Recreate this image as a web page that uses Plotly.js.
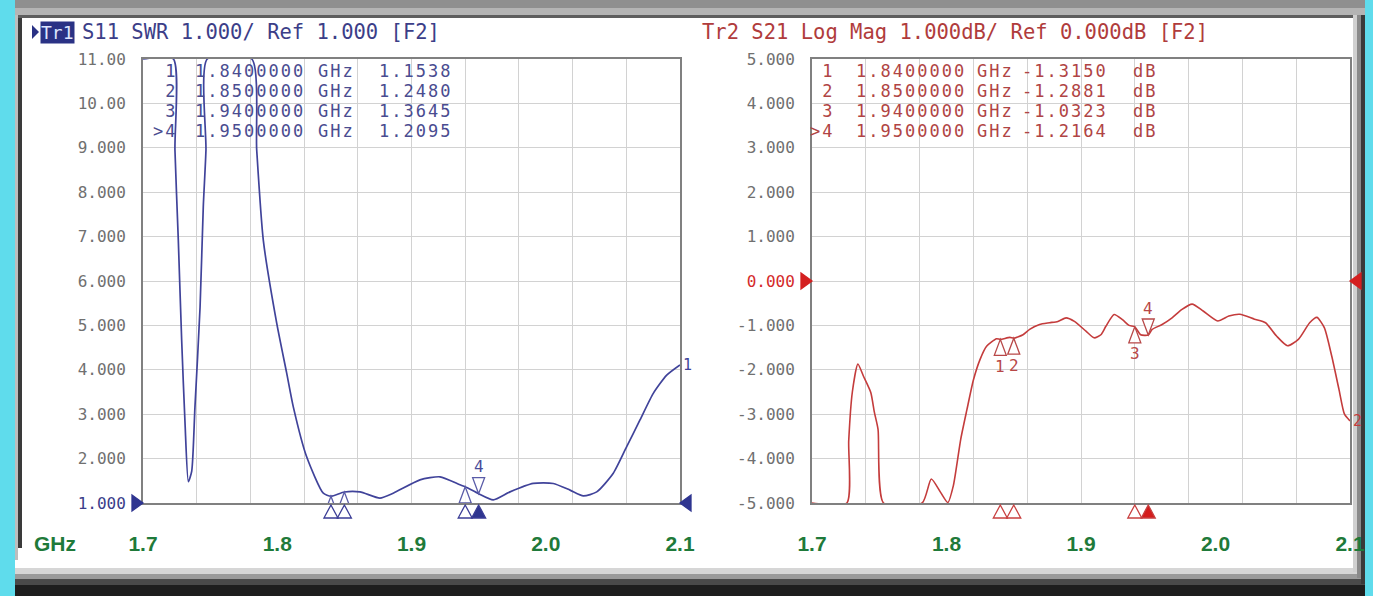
<!DOCTYPE html>
<html><head><meta charset="utf-8">
<script src="https://cdn.plot.ly/plotly-3.0.1.min.js"></script>
<style>html,body{margin:0;padding:0;background:#fff;} #chart{width:1373px;height:596px;}</style>
</head><body><div id="chart"></div>
<script>
// ---------------- data ----------------
const freqS11 = [1.700,1.7226,1.7238,1.7263,1.7288,1.7313,1.7338,1.7363,1.7387,1.7425,1.7449,1.7469,1.7479,1.7810,1.7847,1.7896,1.7996,1.8070,1.8120,1.8219,1.8343,1.8400,1.8500,1.8616,1.8765,1.8864,1.9063,1.9212,1.9361,1.9400,1.9500,1.9609,1.9734,1.9907,2.0056,2.0181,2.0280,2.0380,2.0503,2.0603,2.0702,2.0801,2.0901,2.1000];
const swrS11  = [11,11,8.95,6.92,4.67,2.80,1.48,1.72,3.16,5.41,7.67,8.95,11,11,8.95,6.92,5.05,3.93,3.16,2.04,1.22,1.1538,1.2480,1.25,1.11,1.22,1.52,1.59,1.41,1.3645,1.2095,1.07,1.25,1.44,1.44,1.29,1.16,1.25,1.67,2.27,2.87,3.47,3.88,4.11];

const freqS21 = [1.700,1.7259,1.7273,1.7300,1.7341,1.7382,1.7437,1.7464,1.7491,1.7532,1.7819,1.7887,1.7956,1.8010,1.8051,1.8106,1.8151,1.8200,1.8249,1.8298,1.8372,1.8400,1.8471,1.8500,1.8569,1.8618,1.8692,1.8766,1.8828,1.8889,1.8951,1.9037,1.9098,1.9148,1.9185,1.9246,1.9308,1.9357,1.9400,1.9443,1.9500,1.9529,1.9603,1.9677,1.9751,1.9826,1.9908,2.0017,2.0099,2.0181,2.0290,2.0372,2.0454,2.0536,2.0618,2.0700,2.0754,2.0809,2.0864,2.0918,2.0959,2.1000];
const magS21  = [-5,-5,-3.6,-2.5,-1.87,-2.14,-2.51,-2.96,-3.34,-5,-5,-4.46,-4.76,-4.99,-4.61,-3.56,-2.91,-2.23,-1.77,-1.47,-1.30,-1.3150,-1.27,-1.2881,-1.21,-1.09,-0.98,-0.94,-0.91,-0.83,-0.91,-1.13,-1.28,-1.21,-1.02,-0.755,-0.87,-1.00,-1.0323,-1.21,-1.2164,-1.09,-0.98,-0.83,-0.64,-0.52,-0.675,-0.90,-0.79,-0.75,-0.86,-0.94,-1.24,-1.46,-1.31,-0.94,-0.82,-1.05,-1.69,-2.44,-3.00,-3.15];

const markerIds  = ['1','2','3','>4'];
const markerFreq = [1.84, 1.85, 1.94, 1.95];
const markerSWR  = [1.1538, 1.2480, 1.3645, 1.2095];
const markerMag  = [-1.3150, -1.2881, -1.0323, -1.2164];

const xTickVals = [1.7, 1.8, 1.9, 2.0, 2.1];
const xTickText = ['1.7', '1.8', '1.9', '2.0', '2.1'];
const ySwrVals = [1,2,3,4,5,6,7,8,9,10,11];
const ySwrText = ['1.000','2.000','3.000','4.000','5.000','6.000','7.000','8.000','9.000','10.00','11.00'];
const yMagVals = [-5,-4,-3,-2,-1,0,1,2,3,4,5];
const yMagText = ['-5.000','-4.000','-3.000','-2.000','-1.000','0.000','1.000','2.000','3.000','4.000','5.000'];
const swrRange = [1, 11], magRange = [-5, 5];
const swrRef = 1, magRef = 0;

const header1Tag = 'Tr1';
const header1 = 'S11 SWR 1.000/ Ref 1.000 [F2]';
const header2 = 'Tr2 S21 Log Mag 1.000dB/ Ref 0.000dB [F2]';
const unitLabel = 'GHz';
const magUnit = 'dB';

// ---------------- styling / layout helpers ----------------
const W = 1373, H = 596;
const PX = x => x / W;
const PY = y => 1 - y / H;
const BLUE = '#40439a', RED = '#c43c3c', GREEN = '#1f7a3a';
const GRID = '#d2d2d2', BORDER = '#808080', TICKC = '#707070';
const MONO = 'DejaVu Sans Mono, monospace';

const refColorSpan = (t, c) => '<span style="color:' + c + '">' + t + '</span>';

const traces = [
  {x: freqS11, y: swrS11, xaxis: 'x', yaxis: 'y', mode: 'lines', hoverinfo: 'skip',
   line: {color: BLUE, width: 1.7, shape: 'spline', smoothing: 0.6}},
  {x: freqS21, y: magS21, xaxis: 'x2', yaxis: 'y2', mode: 'lines', hoverinfo: 'skip',
   line: {color: RED, width: 1.6, shape: 'spline', smoothing: 0.6}}
];

function xAxis(domain, anchor) {
  return {
    domain: domain, anchor: anchor, range: [1.7, 2.1], fixedrange: true,
    tickmode: 'array', tickvals: xTickVals, ticktext: xTickText,
    showgrid: false, zeroline: false, ticks: '',
    minor: {tickmode: 'linear', tick0: 1.7, dtick: 0.04, showgrid: true, gridcolor: GRID, gridwidth: 1, ticks: ''},
    showline: true, mirror: true, linecolor: BORDER, linewidth: 2, layer: 'below traces',
    tickfont: {family: 'Liberation Sans, Arial, sans-serif', size: 21, color: GREEN, weight: 'bold'},
    ticklabelstandoff: 21
  };
}
function yAxis(domain, anchor, range, vals, text) {
  return {
    domain: domain, anchor: anchor, range: range, fixedrange: true,
    tickmode: 'array', tickvals: vals, ticktext: text,
    showgrid: true, gridcolor: GRID, gridwidth: 1, zeroline: false, ticks: '',
    showline: true, mirror: true, linecolor: BORDER, linewidth: 2, layer: 'below traces',
    tickfont: {family: MONO, size: 16, color: TICKC},
    ticklabelstandoff: 12
  };
}

const yDom = [PY(503), PY(59)];
const swrText = ySwrText.map((t, i) => ySwrVals[i] === swrRef ? refColorSpan(t, '#3b3d8a') : t);
const magText = yMagText.map((t, i) => yMagVals[i] === magRef ? refColorSpan(t, '#d42a2a') : t);

const shapes = [];
const annotations = [];

// frame / bezel
function rect(x0, y0, x1, y1, color) {
  shapes.push({type: 'rect', xref: 'paper', yref: 'paper', x0: PX(x0), x1: PX(x1), y0: PY(y1), y1: PY(y0),
    fillcolor: color, line: {width: 0}, layer: 'below'});
}
rect(0, 0, W, 8, '#8f8f8f');
rect(0, 8, W, 15, '#b4b4b4');
rect(0, 15, W, 18, '#5e5e5e');
rect(0, 568, W, 574, '#d6d6d6');
rect(0, 574, W, 579, '#9a9a9a');
rect(0, 579, W, 585, '#4a4a4a');
rect(0, 585, W, H, '#1e1e1e');
rect(15, 15, 18, 560, '#bdbdbd');
rect(18, 18, 22, 548, '#3a3a3a');
rect(1353, 15, 1357, 572, '#d0d0d0');
rect(1357, 15, 1361, 578, '#8a8a8a');
rect(1361, 15, 1365, 584, '#3a3a3a');
rect(0, 0, 15, H, '#5fdcec');
rect(1365, 0, W, H, '#5fdcec');

// triangle helper (pixel-size paths anchored in data / domain coords)
function tri(xref, yref, xa, ya, path, color, fill) {
  shapes.push({type: 'path', xref: xref, yref: yref, xsizemode: 'pixel', ysizemode: 'pixel',
    xanchor: xa, yanchor: ya, path: path, fillcolor: fill, line: {color: color, width: 1.3}, layer: 'above'});
}
const UP = 'M0,0 L-6,-16 L6,-16 Z';
const DOWN = 'M0,0 L-6,16 L6,16 Z';
const AXUP = 'M0,-2 L-7,-15 L7,-15 Z';
const frac = (v, r) => (v - r[0]) / (r[1] - r[0]);

// reference level triangles
tri('x domain', 'y domain', 0, frac(swrRef, swrRange), 'M0,0 L-11,8 L-11,-8 Z', '#2f3590', '#2f3590');
tri('x domain', 'y domain', 1, frac(swrRef, swrRange), 'M0,0 L11,8 L11,-8 Z', '#2f3590', '#2f3590');
tri('x2 domain', 'y2 domain', 0, frac(magRef, magRange), 'M0,0 L-11,8 L-11,-8 Z', '#d42020', '#d42020');
tri('x2 domain', 'y2 domain', 1, frac(magRef, magRange), 'M0,0 L11,8 L11,-8 Z', '#d42020', '#d42020');

// markers on traces + below axis
markerFreq.forEach((f, i) => {
  const active = i === markerFreq.length - 1;
  tri('x', 'y', f, markerSWR[i], active ? DOWN : UP, '#5a5ca8', 'rgba(255,255,255,0.85)');
  tri('x2', 'y2', f, markerMag[i], active ? DOWN : UP, '#b84848', 'rgba(255,255,255,0.85)');
  tri('x', 'y domain', f, 0, AXUP, '#3b3d96', active ? '#2f3590' : '#ffffff');
  tri('x2', 'y2 domain', f, 0, AXUP, '#c84040', active ? '#d41c1c' : '#ffffff');
  const lab = markerIds[i].replace('>', '');
  if (active) {
    annotations.push({xref: 'x', yref: 'y', x: f, y: markerSWR[i], yshift: 27, text: lab, showarrow: false,
      font: {family: MONO, size: 16, color: '#4a4c9a'}});
    annotations.push({xref: 'x2', yref: 'y2', x: f, y: markerMag[i], yshift: 27, text: lab, showarrow: false,
      font: {family: MONO, size: 16, color: '#b84848'}});
  } else {
    annotations.push({xref: 'x2', yref: 'y2', x: f, y: markerMag[i], yshift: -27, text: lab, showarrow: false,
      font: {family: MONO, size: 16, color: '#b84848'}});
  }
});

// trace end labels
annotations.push({xref: 'x', yref: 'y', x: freqS11[freqS11.length - 1], y: swrS11[swrS11.length - 1],
  xanchor: 'left', xshift: 1, text: '1', showarrow: false, font: {family: MONO, size: 15, color: BLUE}});
annotations.push({xref: 'x2', yref: 'y2', x: freqS21[freqS21.length - 1], y: magS21[magS21.length - 1],
  xanchor: 'left', xshift: 1, text: '2', showarrow: false, font: {family: MONO, size: 15, color: RED}});

// generic text helper
function txt(x, y, text, color, size, xanchor, extra) {
  annotations.push(Object.assign({xref: 'paper', yref: 'paper', x: PX(x), y: PY(y), xanchor: xanchor || 'left',
    yanchor: 'middle', text: text, showarrow: false, font: {family: MONO, size: size, color: color}}, extra || {}));
}
// headers
shapes.push({type: 'path', xref: 'paper', yref: 'paper',
  path: 'M' + PX(32) + ',' + PY(25) + ' L' + PX(39) + ',' + PY(32) + ' L' + PX(32) + ',' + PY(39) + ' Z',
  fillcolor: '#2a3285', line: {width: 0}});
txt(40, 32, header1Tag, '#dde6ff', 18, 'left', {bgcolor: '#2a3285', borderpad: 0});
txt(80, 32, header1, '#3c3e88', 20.5);
txt(700, 32, header2, '#b03c3c', 20.5);

// marker tables: one multi-line text per column (20px rows, 17px glyphs widened by letter spacing)
const TABLE_MID = 100.75;
function column(x, rows, color, align) {
  const body = rows.map(r => '<span style="font-size:17px;letter-spacing:2px">' + r.replace('>', '&gt;') + '</span>').join('<br>');
  annotations.push({xref: 'paper', yref: 'paper', x: PX(x), y: PY(TABLE_MID), xanchor: align, yanchor: 'middle',
    align: align, text: body, showarrow: false, font: {family: MONO, size: 15.38, color: color}});
}
const freqRows = markerFreq.map(f => f.toFixed(7));
column(179, markerIds, '#4a4c90', 'right');
column(193, freqRows, '#4a4c90', 'left');
column(316, markerIds.map(() => unitLabel), '#4a4c90', 'left');
column(454, markerSWR.map(v => v.toFixed(4)), '#4a4c90', 'right');
column(836, markerIds, '#b04444', 'right');
column(854, freqRows, '#b04444', 'left');
column(975, markerIds.map(() => unitLabel), '#b04444', 'left');
column(1110, markerMag.map(v => v.toFixed(4)), '#b04444', 'right');
column(1131, markerIds.map(() => magUnit), '#b04444', 'left');

// GHz unit label
annotations.push({xref: 'paper', yref: 'paper', x: PX(55), y: PY(543), xanchor: 'center', yanchor: 'middle',
  text: unitLabel, showarrow: false, font: {family: 'Liberation Sans, Arial, sans-serif', size: 21, color: GREEN, weight: 'bold'}});

const layout = {
  width: W, height: H, margin: {l: 0, r: 0, t: 0, b: 0, pad: 0},
  paper_bgcolor: '#ffffff', plot_bgcolor: '#ffffff', showlegend: false,
  xaxis: xAxis([PX(143), PX(680)], 'y'),
  yaxis: yAxis(yDom, 'x', swrRange, ySwrVals, swrText),
  xaxis2: xAxis([PX(812), PX(1350)], 'y2'),
  yaxis2: yAxis(yDom, 'x2', magRange, yMagVals, magText),
  shapes: shapes, annotations: annotations
};

Plotly.newPlot('chart', traces, layout, {staticPlot: true, displayModeBar: false});
</script></body></html>
